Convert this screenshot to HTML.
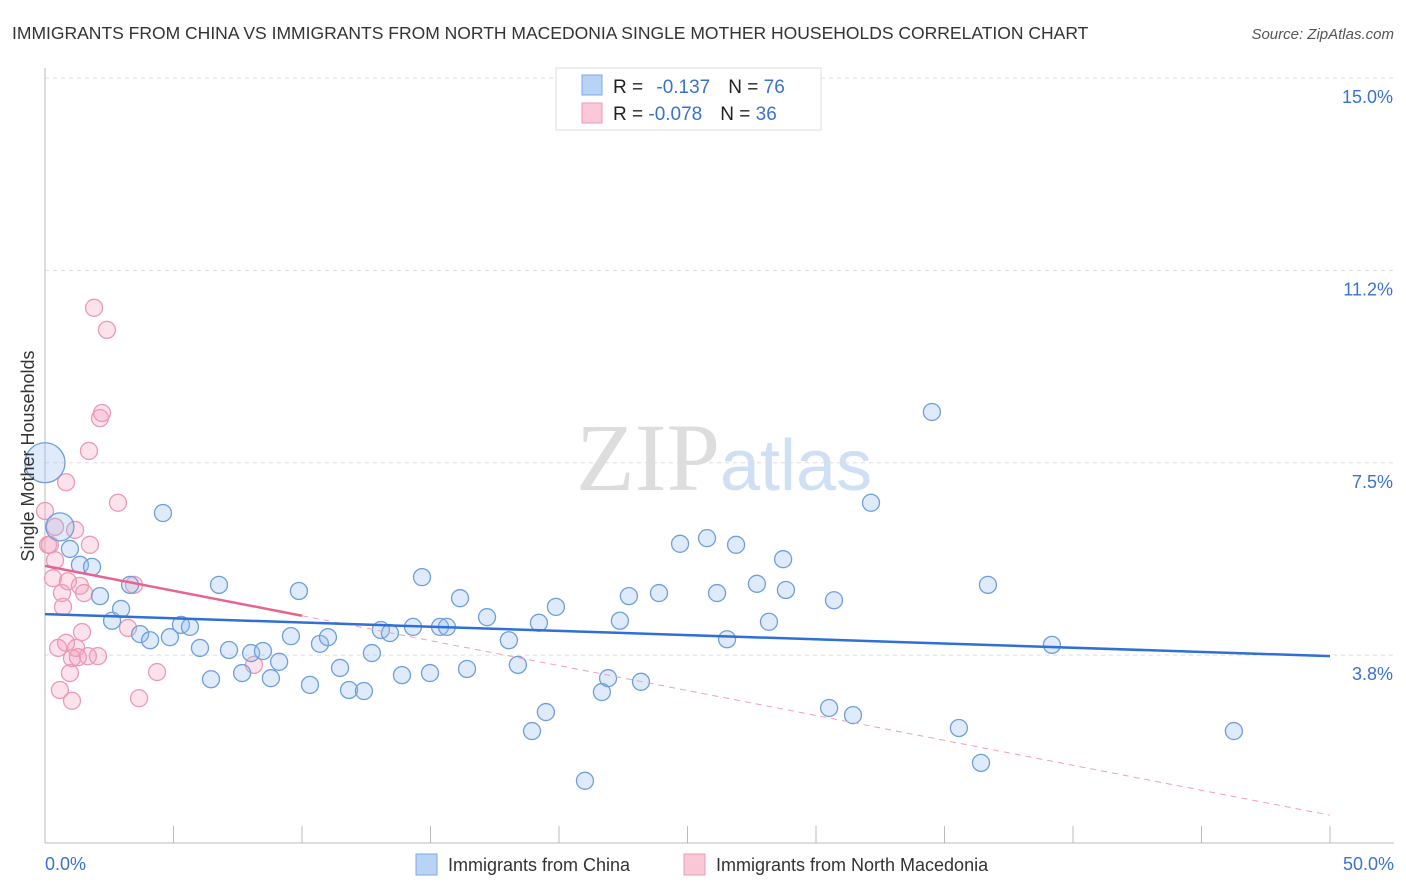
<!DOCTYPE html>
<html><head><meta charset="utf-8">
<style>
body{margin:0;background:#fff;font-family:"Liberation Sans",sans-serif;}
#wrap{position:relative;width:1406px;height:892px;overflow:hidden;}
</style></head>
<body>
<div id="wrap">
<svg id="svg" width="1406" height="892">
  <text x="12" y="39" font-size="17.5" fill="#333">IMMIGRANTS FROM CHINA VS IMMIGRANTS FROM NORTH MACEDONIA SINGLE MOTHER HOUSEHOLDS CORRELATION CHART</text>
  <text x="1394" y="39" font-size="15" fill="#555" font-style="italic" text-anchor="end">Source: ZipAtlas.com</text>
  <text x="720" y="490" font-size="96" font-family="Liberation Serif,serif" fill="#ddd" text-anchor="end">ZIP</text>
  <text x="720" y="490" font-size="72" fill="#cfe0f4">atlas</text>
  <g id="grid"></g>
  <g id="axes"></g>
  <g id="pts"></g>
  <g id="lines"></g>
  <text transform="translate(34,456) rotate(-90)" font-size="18" fill="#333" text-anchor="middle">Single Mother Households</text>
  <g>
    <rect x="556" y="68" width="265" height="62" fill="#fff" stroke="#ddd"/>
    <rect x="582" y="75" width="20" height="20" fill="#b8d3f5" stroke="#7aa8e0"/>
    <rect x="582" y="103" width="20" height="20" fill="#fbc8d7" stroke="#ec9ab4"/>
    <text x="613" y="93" font-size="19" fill="#222">R = <tspan fill="#3a72d0" dx="8">-0.137</tspan><tspan dx="18" fill="#222">N = </tspan><tspan fill="#3a72d0">76</tspan></text>
    <text x="613" y="120" font-size="19" fill="#222">R = <tspan fill="#3a72d0">-0.078</tspan><tspan dx="18" fill="#222">N = </tspan><tspan fill="#3a72d0">36</tspan></text>
  </g>
  <g>
    <rect x="416" y="854" width="21" height="21" fill="#b8d3f5" stroke="#7aa8e0"/>
    <text x="448" y="871" font-size="18" fill="#333">Immigrants from China</text>
    <rect x="684" y="854" width="21" height="21" fill="#fbc8d7" stroke="#ec9ab4"/>
    <text x="716" y="871" font-size="18" fill="#333">Immigrants from North Macedonia</text>
  </g>
</svg>
</div>
<script>
const yTicks=[3.75,7.5,11.25,15];
const yTickLabels=["3.8%","7.5%","11.2%","15.0%"];
const xTickLabels=["0.0%","50.0%"];
const chinaX=[0.0,0.58,0.97,1.36,1.83,2.14,2.61,2.96,3.31,3.70,4.09,4.59,4.86,5.29,5.64,6.03,6.46,6.77,7.16,7.67,8.02,8.48,8.79,9.11,9.57,9.88,10.31,10.70,11.01,11.48,11.83,12.41,12.72,13.07,13.42,13.89,14.32,14.67,14.98,15.37,15.64,16.15,16.42,17.20,18.05,18.40,18.95,19.22,19.49,19.88,21.01,21.67,21.91,22.37,22.72,23.19,23.89,24.71,25.76,26.15,26.54,26.89,27.70,28.17,28.72,28.83,30.51,30.70,31.44,32.14,34.51,35.56,36.42,36.69,39.18,46.26];
const chinaY=[7.50,6.25,5.82,5.51,5.47,4.90,4.42,4.65,5.12,4.16,4.04,6.52,4.10,4.34,4.30,3.89,3.28,5.12,3.85,3.40,3.79,3.83,3.30,3.62,4.12,5.00,3.17,3.97,4.10,3.50,3.07,3.05,3.79,4.24,4.18,3.36,4.30,5.27,3.40,4.30,4.30,4.86,3.48,4.49,4.04,3.56,2.27,4.38,2.64,4.69,1.30,3.03,3.30,4.42,4.90,3.23,4.96,5.92,6.03,4.96,4.06,5.90,5.14,4.40,5.62,5.02,2.72,4.82,2.58,6.72,8.49,2.33,1.65,5.12,3.95,2.27];
const macX=[0.0,0.12,0.19,0.31,0.39,0.39,0.51,0.58,0.66,0.70,0.82,0.82,0.89,0.97,1.05,1.05,1.17,1.21,1.28,1.36,1.44,1.52,1.67,1.75,1.71,1.91,2.06,2.14,2.22,2.41,2.84,3.23,3.46,3.66,4.36,8.13];
const macY=[6.56,5.90,5.90,5.25,5.60,6.25,3.89,3.07,4.96,4.69,7.12,3.99,5.19,3.40,2.86,3.69,6.19,3.89,3.71,5.10,4.20,4.96,3.73,5.90,7.73,10.52,3.73,8.37,8.47,10.09,6.72,4.28,5.12,2.91,3.42,3.56];
const chinaTrend=[4.55,3.73];
const macTrend=[5.49,0.63];
const NS="http://www.w3.org/2000/svg";
const X=v=>45+v*25.7, Y=v=>78+(15-v)*51.3;
function mk(tag,attrs,parent){const e=document.createElementNS(NS,tag);for(const k in attrs)e.setAttribute(k,attrs[k]);parent.appendChild(e);return e;}
const grid=document.getElementById('grid'),axes=document.getElementById('axes'),pts=document.getElementById('pts'),lines=document.getElementById('lines');
yTicks.forEach((t,i)=>{
  const l=mk('line',{x1:45,x2:1394,y1:Y(t),y2:Y(t),stroke:'#ddd','stroke-dasharray':'4,4'},grid);
  
  
  const tx=mk('text',{x:1393,y:Y(t)+25,'font-size':18,fill:'#3a72d0','text-anchor':'end'},axes);
  tx.textContent=yTickLabels[i];
  
  
});
const ya=mk('line',{x1:45,x2:45,y1:68,y2:843,stroke:'#bbb'},axes);


const xa=mk('line',{x1:45,x2:1394,y1:843,y2:843,stroke:'#bbb'},axes);


for(let v=5;v<=50;v+=5){
  const tk=mk('line',{x1:X(v),x2:X(v),y1:826,y2:843,stroke:'#bbb'},axes);
  
  
}
[[0,'start',45],[50,'end',1394]].forEach((a,i)=>{
  const tx=mk('text',{x:a[2],y:870,'font-size':18,fill:'#3a72d0','text-anchor':a[1]},axes);
  tx.textContent=xTickLabels[i];
  
  
});
macX.forEach((x,i)=>{
  const c=mk('circle',{cx:X(x),cy:Y(macY[i]),r:8.5,fill:'rgba(245,160,190,0.3)',stroke:'#eb9ab4','stroke-width':1.3},pts);
  
  
});
chinaX.forEach((x,i)=>{
  const r=i==0?20:(i==1?14:8.5);
  const c=mk('circle',{cx:X(x),cy:Y(chinaY[i]),r:r,fill:'rgba(150,190,240,0.3)',stroke:'#6e9fdc','stroke-width':1.3},pts);
  
  
});
const ml=(a,b)=>a+(b-a)*10/50;
const pd=mk('line',{x1:X(10),y1:Y(ml(macTrend[0],macTrend[1])),x2:X(50),y2:Y(macTrend[1]),stroke:'#f0a0b8','stroke-width':1,'stroke-dasharray':'6,5'},lines);


const ps=mk('line',{x1:X(0),y1:Y(macTrend[0]),x2:X(10),y2:Y(ml(macTrend[0],macTrend[1])),stroke:'#e8638f','stroke-width':2.5},lines);


const bl=mk('line',{x1:X(0),y1:Y(chinaTrend[0]),x2:X(50),y2:Y(chinaTrend[1]),stroke:'#2f6fd6','stroke-width':2.5},lines);


</script>
</body></html>
